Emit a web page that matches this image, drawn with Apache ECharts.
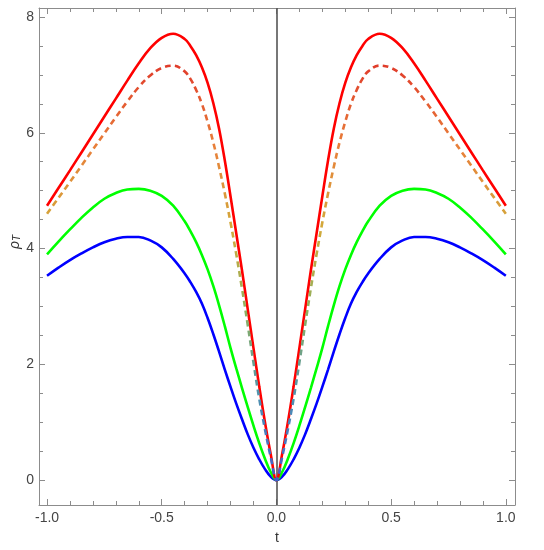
<!DOCTYPE html>
<html>
<head>
<meta charset="utf-8">
<script src="https://cdn.jsdelivr.net/npm/echarts@6/dist/echarts.min.js"></script>
<style>
html,body{margin:0;padding:0;background:#fff;}
#chart{width:544px;height:550px;}
</style>
</head>
<body>
<div id="chart"></div>
<script>
// t values
var tValues = [-1, -0.95, -0.9, -0.85, -0.8, -0.75, -0.7, -0.65, -0.6, -0.55, -0.5, -0.45, -0.4,
  -0.375, -0.35, -0.325, -0.3, -0.275, -0.25, -0.225, -0.2, -0.175, -0.15, -0.125, -0.1, -0.075, -0.05, -0.025, 0,
  0.025, 0.05, 0.075, 0.1, 0.125, 0.15, 0.175, 0.2, 0.225, 0.25, 0.275, 0.3, 0.325, 0.35, 0.375,
  0.4, 0.45, 0.5, 0.55, 0.6, 0.65, 0.7, 0.75, 0.8, 0.85, 0.9, 0.95, 1];
// red solid curve
var rhoRed = [4.74, 5.045, 5.35, 5.66, 5.97, 6.28, 6.59, 6.90, 7.20, 7.46, 7.64, 7.71, 7.62,
  7.50, 7.34, 7.13, 6.86, 6.51, 6.07, 5.52, 4.90, 4.26, 3.62, 2.95, 2.28, 1.62, 1.00, 0.45, 0,
  0.45, 1.00, 1.62, 2.28, 2.95, 3.62, 4.26, 4.90, 5.52, 6.07, 6.51, 6.86, 7.13, 7.34, 7.50,
  7.62, 7.71, 7.64, 7.46, 7.20, 6.90, 6.59, 6.28, 5.97, 5.66, 5.35, 5.045, 4.74];
// dashed curve
var rhoDashed = [4.60, 4.875, 5.15, 5.43, 5.71, 5.99, 6.27, 6.54, 6.79, 6.99, 7.12, 7.16, 7.06,
  6.93, 6.74, 6.50, 6.19, 5.83, 5.41, 4.95, 4.45, 3.90, 3.31, 2.68, 2.03, 1.41, 0.88, 0.40, 0,
  0.40, 0.88, 1.41, 2.03, 2.68, 3.31, 3.90, 4.45, 4.95, 5.41, 5.83, 6.19, 6.50, 6.74, 6.93,
  7.06, 7.16, 7.12, 6.99, 6.79, 6.54, 6.27, 5.99, 5.71, 5.43, 5.15, 4.875, 4.60];
// green curve
var rhoGreen = [3.90, 4.12, 4.33, 4.53, 4.71, 4.86, 4.96, 5.02, 5.03, 5.00, 4.91, 4.74, 4.47,
  4.30, 4.11, 3.89, 3.64, 3.35, 3.02, 2.66, 2.28, 1.93, 1.59, 1.26, 0.94, 0.64, 0.37, 0.14, 0,
  0.14, 0.37, 0.64, 0.94, 1.26, 1.59, 1.93, 2.28, 2.66, 3.02, 3.35, 3.64, 3.89, 4.11, 4.30,
  4.47, 4.74, 4.91, 5.00, 5.03, 5.02, 4.96, 4.86, 4.71, 4.53, 4.33, 4.12, 3.90];
// blue curve
var rhoBlue = [3.53, 3.67, 3.80, 3.915, 4.02, 4.11, 4.17, 4.20, 4.20, 4.14, 4.02, 3.82, 3.57,
  3.42, 3.25, 3.05, 2.80, 2.52, 2.22, 1.91, 1.61, 1.32, 1.05, 0.79, 0.56, 0.36, 0.19, 0.06, 0,
  0.06, 0.19, 0.36, 0.56, 0.79, 1.05, 1.32, 1.61, 1.91, 2.22, 2.52, 2.80, 3.05, 3.25, 3.42,
  3.57, 3.82, 4.02, 4.14, 4.20, 4.20, 4.17, 4.11, 4.02, 3.915, 3.80, 3.67, 3.53];
// tick labels / positions
var xMajorTicks = [-1, -0.5, 0, 0.5, 1];
var xMinorTicks = [-1, -0.9, -0.8, -0.7, -0.6, -0.5, -0.4, -0.3, -0.2, -0.1, 0, 0.1, 0.2, 0.3, 0.4, 0.5, 0.6, 0.7, 0.8, 0.9, 1];
var yMajorTicks = [0, 2, 4, 6, 8];
var yMinorTicks = [0, 0.5, 1, 1.5, 2, 2.5, 3, 3.5, 4, 4.5, 5, 5.5, 6, 6.5, 7, 7.5, 8];

function zip(ys) { return tValues.map(function (t, i) { return [t, ys[i]]; }); }

var frameColor = '#8c8c8c';
var labelStyle = { color: '#444', fontSize: 14, fontFamily: 'Liberation Sans, Arial, sans-serif' };
var XMIN = -1.035, XMAX = 1.04, YMIN = -0.43, YMAX = 8.155;

function xAx(pos, values, len, labels, showLine) {
  return {
    type: 'value', position: pos, min: XMIN, max: XMAX,
    axisLine: { show: showLine, onZero: false, lineStyle: { color: frameColor, width: 1 } },
    axisTick: { show: true, inside: true, length: len, customValues: values, lineStyle: { color: frameColor, width: 1 } },
    axisLabel: labels ? Object.assign({ show: true, margin: 6, customValues: xMajorTicks, formatter: function (v) { return v.toFixed(1); } }, labelStyle) : { show: false },
    splitLine: { show: false }
  };
}
function yAx(pos, values, len, labels, showLine) {
  return {
    type: 'value', position: pos, min: YMIN, max: YMAX,
    axisLine: { show: showLine, onZero: false, lineStyle: { color: frameColor, width: 1 } },
    axisTick: { show: true, inside: true, length: len, customValues: values, lineStyle: { color: frameColor, width: 1 } },
    axisLabel: labels ? Object.assign({ show: true, margin: 5, customValues: yMajorTicks, formatter: function (v) { return String(v); } }, labelStyle) : { show: false },
    splitLine: { show: false }
  };
}

var xAxes = [xAx('bottom', xMajorTicks, 6, true, true), xAx('bottom', xMinorTicks, 4, false, false),
             xAx('top', xMajorTicks, 6, false, true), xAx('top', xMinorTicks, 4, false, false)];
xAxes[0].name = 't';
xAxes[0].nameLocation = 'middle';
xAxes[0].nameGap = 26;
xAxes[0].nameTextStyle = { color: '#333', fontSize: 14, fontFamily: 'Liberation Sans, Arial, sans-serif' };

var yAxes = [yAx('left', yMajorTicks, 6, true, true), yAx('left', yMinorTicks, 4, false, false),
             yAx('right', yMajorTicks, 6, false, true), yAx('right', yMinorTicks, 4, false, false)];

var chart = echarts.init(document.getElementById('chart'), null, { renderer: 'canvas' });
chart.setOption({
  animation: false,
  backgroundColor: '#fff',
  grid: { left: 39, right: 29, top: 8, bottom: 45, containLabel: false, outerBoundsMode: 'none' },
  xAxis: xAxes,
  yAxis: yAxes,
  graphic: [{
    type: 'text', x: 14, y: 242, rotation: Math.PI / 2,
    style: {
      text: '{r|ρ}{s|T}', align: 'center', verticalAlign: 'middle',
      rich: {
        r: { fontSize: 14, fontStyle: 'italic', fill: '#333', fontFamily: 'Liberation Sans, Arial, sans-serif', verticalAlign: 'bottom' },
        s: { fontSize: 10, fontStyle: 'italic', fill: '#333', fontFamily: 'Liberation Sans, Arial, sans-serif', padding: [6, 0, 0, 0], verticalAlign: 'bottom' }
      }
    }
  }],
  visualMap: {
    type: 'continuous', show: false, seriesIndex: 1, dimension: 1, min: 0, max: 7.2,
    inRange: { color: ['#3f5fd0', '#4f92b0', '#8cb060', '#d2aa3a', '#e8803a', '#e03a2a'] }
  },
  series: [
    {
      type: 'line', name: 'blue', data: zip(rhoBlue), smooth: 0.4, showSymbol: false, z: 3,
      lineStyle: { color: '#0000ff', width: 2.6 },
      markLine: {
        silent: true, symbol: ['none', 'none'], label: { show: false },
        lineStyle: { color: '#555', width: 1.6, type: 'solid' },
        data: [{ xAxis: 0 }]
      }
    },
    {
      type: 'line', name: 'dashed', data: zip(rhoDashed), smooth: 0.4, showSymbol: false, z: 6,
      lineStyle: { width: 2.6, type: [6, 4] }
    },
    {
      type: 'line', name: 'green', data: zip(rhoGreen), smooth: 0.4, showSymbol: false, z: 3,
      lineStyle: { color: '#00ff00', width: 2.6 }
    },
    {
      type: 'line', name: 'red', data: zip(rhoRed), smooth: 0.4, showSymbol: false, z: 5,
      lineStyle: { color: '#ff0000', width: 2.6 }
    }
  ]
});
</script>
</body>
</html>
